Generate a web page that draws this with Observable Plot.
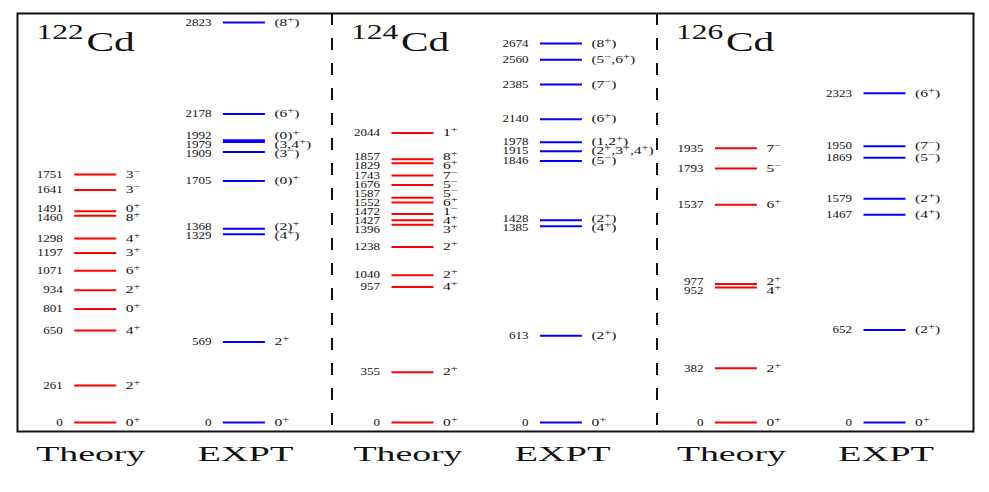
<!DOCTYPE html>
<html><head><meta charset="utf-8">
<script src="https://cdn.jsdelivr.net/npm/d3@7"></script>
<script src="https://cdn.jsdelivr.net/npm/@observablehq/plot@0.6"></script>
<style>body{margin:0;background:#fff}</style>
</head><body><div id="chart"></div>
<script>
// ---- data ----
const nuclides = ["122", "124", "126"];
const columnKinds = ["Theory", "EXPT"];

const cd122TheoryE = [0, 261, 650, 801, 934, 1071, 1197, 1298, 1460, 1491, 1641, 1751];
const cd122TheoryJ = ["0+", "2+", "4+", "0+", "2+", "6+", "3+", "4+", "8+", "0+", "3-", "3-"];
const cd122ExptE = [0, 569, 1329, 1368, 1705, 1909, 1979, 1992, 2178, 2823];
const cd122ExptJ = ["0+", "2+", "(4+)", "(2)+", "(0)+", "(3-)", "(3,4+)", "(0)+", "(6+)", "(8+)"];

const cd124TheoryE = [0, 355, 957, 1040, 1238, 1396, 1427, 1472, 1552, 1587, 1676, 1743, 1829, 1857, 2044];
const cd124TheoryJ = ["0+", "2+", "4+", "2+", "2+", "3+", "4+", "1-", "6+", "5-", "5-", "7-", "6+", "8+", "1+"];
const cd124ExptE = [0, 613, 1385, 1428, 1846, 1915, 1978, 2140, 2385, 2560, 2674];
const cd124ExptJ = ["0+", "(2+)", "(4+)", "(2+)", "(5-)", "(2+,3+,4+)", "(1,2+)", "(6+)", "(7-)", "(5-,6+)", "(8+)"];

const cd126TheoryE = [0, 382, 952, 977, 1537, 1793, 1935];
const cd126TheoryJ = ["0+", "2+", "4+", "2+", "6+", "5-", "7-"];
const cd126ExptE = [0, 652, 1467, 1579, 1869, 1950, 2323];
const cd126ExptJ = ["0+", "(2+)", "(4+)", "(2+)", "(5-)", "(7-)", "(6+)"];

// ---- layout (px offsets from frame left) ----
const W = 989, H = 492;
const mL = 17, mR = 16, mT = 13, mB = 61;
const xDomain = [0, W - mL - mR];
const yDomain = [-63.5, 2886.5];
const panelLeft = [0, 314.5, 639.5];
const dividers = [314.5, 639.5];
const colCenters = [[78.2, 226.9], [395.5, 543.9], [718.9, 867.5]];
const halfW = 21;
const minSep = 9;

const sets = [
  {p: 0, k: 0, E: cd122TheoryE, J: cd122TheoryJ},
  {p: 0, k: 1, E: cd122ExptE, J: cd122ExptJ},
  {p: 1, k: 0, E: cd124TheoryE, J: cd124TheoryJ},
  {p: 1, k: 1, E: cd124ExptE, J: cd124ExptJ},
  {p: 2, k: 0, E: cd126TheoryE, J: cd126TheoryJ},
  {p: 2, k: 1, E: cd126ExptE, J: cd126ExptJ}
];

const yS = d3.scaleLinear(yDomain, [H - mB, mT]);

// spread labels so they do not overlap (in pixel space)
function spread(ys) {
  let cl = ys.map((y, i) => ({idx: [i], sum: y, n: 1, top: y}));
  let changed = true;
  while (changed) {
    changed = false;
    for (let i = 0; i < cl.length - 1; i++) {
      const a = cl[i], b = cl[i + 1];
      const aBot = a.top + (a.n - 1) * minSep;
      if (b.top - aBot < minSep) {
        const m = {idx: a.idx.concat(b.idx), sum: a.sum + b.sum, n: a.n + b.n};
        m.top = m.sum / m.n - (m.n - 1) * minSep / 2;
        cl.splice(i, 2, m);
        changed = true;
        break;
      }
    }
  }
  const out = new Array(ys.length);
  for (const c of cl) c.idx.forEach((id, j) => out[id] = c.top + j * minSep);
  return out;
}

const levels = [];
for (const s of sets) {
  const cx = colCenters[s.p][s.k];
  const rows = s.E.map((e, i) => ({E: e, J: s.J[i], cx, kind: columnKinds[s.k]}));
  rows.sort((a, b) => b.E - a.E); // top to bottom
  const ly = spread(rows.map(r => yS(r.E)));
  rows.forEach((r, i) => { r.labelE = yS.invert(ly[i]); levels.push(r); });
}
const theory = levels.filter(d => d.kind === "Theory");
const expt = levels.filter(d => d.kind === "EXPT");

const cols = [];
colCenters.forEach(pc => pc.forEach((cx, k) => cols.push({cx, kind: columnKinds[k]})));

const serif = "Liberation Serif, Times New Roman, serif";

const plot = Plot.plot({
  width: W, height: H,
  marginLeft: mL, marginRight: mR, marginTop: mT, marginBottom: mB,
  x: {domain: xDomain, axis: null},
  y: {domain: yDomain, axis: null},
  style: {background: "#fff", color: "#111"},
  marks: [
    Plot.ruleX(dividers, {stroke: "#111", strokeWidth: 2, strokeDasharray: "12,13"}),
    Plot.frame({stroke: "#111", strokeWidth: 2}),
    Plot.ruleY(theory, {y: "E", x1: d => d.cx - halfW, x2: d => d.cx + halfW, stroke: "#ff0000", strokeWidth: 2}),
    Plot.ruleY(expt, {y: "E", x1: d => d.cx - halfW, x2: d => d.cx + halfW, stroke: "#0000ff", strokeWidth: 2}),
    Plot.text(levels, {x: d => d.cx - halfW, y: "labelE", dx: -12, text: d => String(d.E),
      textAnchor: "end", fontSize: 10, fontFamily: serif}),
    Plot.text(levels, {x: d => d.cx + halfW, y: "labelE", dx: 9, text: "J",
      textAnchor: "start", fontSize: 10, fontFamily: serif}),
    Plot.text(nuclides, {x: (d, i) => panelLeft[i] + 19, frameAnchor: "top", lineAnchor: "middle", dy: 18.6, text: d => d,
      textAnchor: "start", fontSize: 21, fontFamily: serif}),
    Plot.text(nuclides, {x: (d, i) => panelLeft[i] + 69, frameAnchor: "top", lineAnchor: "middle", dy: 28.4, text: d => "Cd",
      textAnchor: "start", fontSize: 27.6, fontFamily: serif}),
    Plot.text(cols, {x: d => d.cx + (d.kind === "Theory" ? -5 : 1), frameAnchor: "bottom", lineAnchor: "middle", dy: 22.7, text: "kind",
      textAnchor: "middle", fontSize: 22, fontFamily: serif})
  ]
});
document.getElementById("chart").appendChild(plot);

// text mark groups in mark order: energy, spin, title superscript, title Cd, column labels
const groups = Array.from(plot.children).filter(g => g.tagName === "g" && g.querySelector(":scope > text"));
const [gEnergy, gSpin, gSup, gCd, gCols] = groups;

// superscript signs in spin labels
d3.select(gSpin).selectAll("text").each(function () {
  const s = this.textContent;
  const el = d3.select(this);
  el.text(null);
  let shifted = false;
  const segs = s.match(/[+-]+|[^+-]+/g) || [];
  for (const seg of segs) {
    const sup = /^[+-]+$/.test(seg);
    const t = el.append("tspan").text(sup ? seg.replace(/-/g, "\u2212") : seg);
    if (sup) {
      t.attr("font-size", 8);
      if (!shifted) { t.attr("dy", -4); shifted = true; }
    } else if (shifted) { t.attr("dy", 4); shifted = false; }
  }
});
function stretch(g, f) {
  d3.select(g).selectAll("text").each(function () {
    const w = this.getComputedTextLength();
    this.setAttribute("textLength", (w * f).toFixed(2));
    this.setAttribute("lengthAdjust", "spacingAndGlyphs");
  });
}
stretch(gEnergy, 1.3);
stretch(gSpin, 1.55);
stretch(gSup, 1.5);
stretch(gCd, 1.5);
d3.select(gCols).selectAll("text").each(function (d, i) {
  this.setAttribute("textLength", cols[i].kind === "Theory" ? 109 : 96);
  this.setAttribute("lengthAdjust", "spacingAndGlyphs");
});
</script>
</body></html>
